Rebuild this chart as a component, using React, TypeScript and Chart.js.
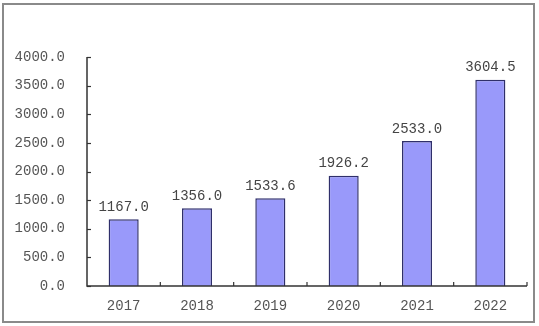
import React, { useEffect, useRef } from "react";
import { Chart, registerables } from "chart.js";

Chart.register(...registerables);

const categories = ["2017", "2018", "2019", "2020", "2021", "2022"];
const values = [1167.0, 1356.0, 1533.6, 1926.2, 2533.0, 3604.5];
const yTicks = [0, 500, 1000, 1500, 2000, 2500, 3000, 3500, 4000];

const FONT = "'Liberation Mono', 'DejaVu Sans Mono', monospace";

const axesPlugin = {
  id: "customAxes",
  afterDraw(chart: any) {
    const ctx = chart.ctx;
    const { left, right, top, bottom } = chart.chartArea;
    const y = chart.scales.y;
    const x = chart.scales.x;
    ctx.save();
    ctx.strokeStyle = "#333";
    ctx.lineWidth = 1.5;
    ctx.beginPath();
    ctx.moveTo(left, top);
    ctx.lineTo(left, bottom);
    ctx.lineTo(right, bottom);
    ctx.stroke();
    ctx.lineWidth = 1.2;
    yTicks.forEach((v) => {
      const py = Math.round(y.getPixelForValue(v)) + 0.5;
      ctx.beginPath();
      ctx.moveTo(left, py);
      ctx.lineTo(left + 4, py);
      ctx.stroke();
    });
    for (let i = 1; i <= categories.length; i++) {
      const px = (x.getPixelForValue(i - 1) + (i < categories.length ? x.getPixelForValue(i) : x.getPixelForValue(i - 1) + (x.getPixelForValue(1) - x.getPixelForValue(0)))) / 2;
      ctx.beginPath();
      ctx.moveTo(px, bottom);
      ctx.lineTo(px, bottom - 4);
      ctx.stroke();
    }
    // data labels
    const meta = chart.getDatasetMeta(0);
    ctx.fillStyle = "#444";
    ctx.font = "14px " + FONT;
    ctx.textAlign = "center";
    ctx.textBaseline = "bottom";
    meta.data.forEach((bar: any, i: number) => {
      ctx.fillText(values[i].toFixed(1), bar.x, bar.y - 5);
    });
    ctx.restore();
  },
};

export default function App() {
  const ref = useRef<HTMLCanvasElement>(null);
  useEffect(() => {
    if (!ref.current) return;
    const chart = new Chart(ref.current, {
      type: "bar",
      data: {
        labels: categories,
        datasets: [
          {
            data: values,
            backgroundColor: "#9999fa",
            borderColor: "#2f2f6a",
            borderWidth: 1.5,
            borderSkipped: "bottom",
            categoryPercentage: 1,
            barPercentage: 0.41,
          },
        ],
      },
      options: {
        animation: false,
        responsive: false,
        maintainAspectRatio: false,
        layout: { padding: { top: 57, right: 12, left: 0, bottom: 0 } },
        plugins: { legend: { display: false }, tooltip: { enabled: false } },
        scales: {
          x: {
            offset: true,
            grid: { display: false, drawTicks: false },
            border: { display: false },
            ticks: {
              color: "#555",
              font: { family: FONT, size: 14 },
              padding: 12,
              maxRotation: 0,
            },
            afterFit(scale: any) {
              scale.height = 40;
            },
          },
          y: {
            min: 0,
            max: 4000,
            grid: { display: false, drawTicks: false },
            border: { display: false },
            ticks: {
              stepSize: 500,
              color: "#555",
              font: { family: FONT, size: 14 },
              padding: 22,
              callback: (v: any) => Number(v).toFixed(1),
            },
            afterFit(scale: any) {
              scale.width = 87;
            },
          },
        },
      },
      plugins: [axesPlugin],
    });
    return () => chart.destroy();
  }, []);
  return (
    <div style={{ position: "fixed", left: 0, top: 0, width: 539, height: 326, background: "#fff" }}>
      <div
        style={{
          position: "absolute",
          left: 2,
          top: 3,
          width: 529,
          height: 316,
          border: "2px solid #8a8a8a",
        }}
      />
      <canvas ref={ref} width={539} height={326} style={{ position: "absolute", left: 0, top: 0 }} />
    </div>
  );
}
